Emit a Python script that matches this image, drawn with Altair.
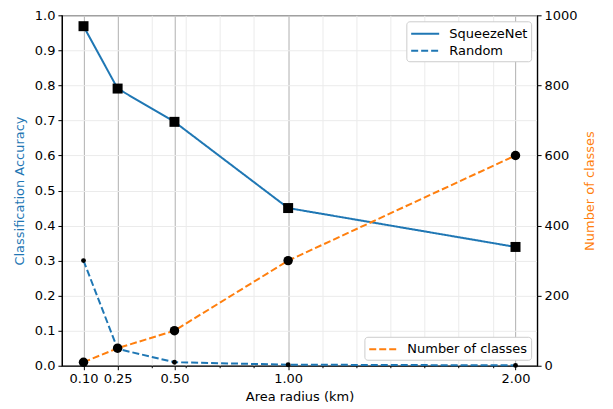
import altair as alt
import pandas as pd

radius = [0.10, 0.25, 0.50, 1.00, 2.00]
squeezenet = [0.969, 0.791, 0.696, 0.450, 0.339]
random_acc = [0.300, 0.048, 0.010, 0.003, 0.001]
n_classes = [10, 50, 100, 300, 600]

x_major = [0.10, 0.25, 0.50, 1.00, 2.00]
x_ticks = [0.10, 0.25, 0.40, 0.50, 0.55, 0.70, 0.85, 1.00, 1.15, 1.30,
           1.45, 1.60, 1.75, 1.90, 2.00]
y_left_ticks = [0.0, 0.1, 0.2, 0.3, 0.4, 0.5, 0.6, 0.7, 0.8, 0.9, 1.0]
y_right_ticks = [0, 200, 400, 600, 800, 1000]

BLUE = "#1f77b4"
ORANGE = "#ff7f0e"
FONT = "DejaVu Sans"
LEG_SYMBOL = "M-0.9,0H2.4"

acc_df = pd.DataFrame({
    "radius": radius * 2,
    "acc": squeezenet + random_acc,
    "series": ["SqueezeNet"] * len(radius) + ["Random"] * len(radius),
})
cls_df = pd.DataFrame({"radius": radius, "classes": n_classes,
                       "series": ["Number of classes"] * len(radius)})

major_test = " || ".join(f"datum.value == {v}" for v in x_major)

x_enc = alt.X(
    "radius:Q",
    scale=alt.Scale(domain=[0.005, 2.095], nice=False, zero=False),
    axis=alt.Axis(
        values=x_ticks,
        title="Area radius (km)",
        labelExpr=f"({major_test}) ? format(datum.value, '.2f') : ''",
        labelOverlap=False,
        labelFlush=False,
        grid=True,
        gridColor={"condition": {"test": major_test, "value": "#b0b0b0"}, "value": "#ebebeb"},
        tickSize={"condition": {"test": major_test, "value": 4}, "value": 2},
        titlePadding=5,
    ),
)

y_left = alt.Y(
    "acc:Q",
    scale=alt.Scale(domain=[0, 1], nice=False),
    axis=alt.Axis(values=y_left_ticks, format=".1f", title="Classification Accuracy",
                  titleColor=BLUE, grid=True, gridColor="#ebebeb", orient="left",
                  titlePadding=8),
)

legend_common = dict(
    title=None, symbolType=LEG_SYMBOL, symbolStrokeWidth=2, symbolSize=289,
    strokeColor="#cccccc", fillColor="white", padding=3, cornerRadius=3,
    labelFontSize=13, rowPadding=0, offset=6, labelOffset=21,
)

blue_lines = alt.Chart(acc_df).mark_line(color=BLUE, strokeWidth=2).encode(
    x=x_enc,
    y=y_left,
    strokeDash=alt.StrokeDash(
        "series:N",
        scale=alt.Scale(domain=["SqueezeNet", "Random"], range=[[1, 0], [7, 3]]),
        legend=alt.Legend(orient="top-right", symbolStrokeColor=BLUE, **legend_common),
    ),
)

squares = alt.Chart(acc_df).transform_filter(
    alt.datum.series == "SqueezeNet"
).mark_square(size=100, color="black", opacity=1).encode(x=x_enc, y=y_left)

dots = alt.Chart(acc_df).transform_filter(
    alt.datum.series == "Random"
).mark_circle(size=24, color="black", opacity=1).encode(x=x_enc, y=y_left)

left = alt.layer(blue_lines, squares, dots)

y_right = alt.Y(
    "classes:Q",
    scale=alt.Scale(domain=[0, 1000], nice=False),
    axis=alt.Axis(values=y_right_ticks, format="d", title="Number of classes",
                  titleColor=ORANGE, grid=False, orient="right", titleAngle=270,
                  titlePadding=19),
)

orange_line = alt.Chart(cls_df).mark_line(strokeWidth=2, strokeDash=[7, 3]).encode(
    x=x_enc,
    y=y_right,
    color=alt.Color(
        "series:N",
        scale=alt.Scale(domain=["Number of classes"], range=[ORANGE]),
        legend=alt.Legend(orient="bottom-right", symbolDash=[7, 3], **legend_common),
    ),
)

circles = alt.Chart(cls_df).mark_circle(size=90, color="black", opacity=1).encode(
    x=x_enc, y=y_right
)

right = alt.layer(orange_line, circles)

chart = alt.layer(left, right).resolve_scale(y="independent").properties(
    width=476, height=351,
    autosize=alt.AutoSizeParams(type="none"),
    padding={"left": 54, "top": 7, "right": 68, "bottom": 42},
).configure(font=FONT).configure_view(
    stroke="black", strokeWidth=1.2
).configure_axis(
    labelFont=FONT, titleFont=FONT, labelFontSize=13, titleFontSize=13,
    titleFontWeight="normal", labelColor="black", titleColor="black",
    domainColor="black", tickColor="black", domainWidth=1.2, tickWidth=1,
    tickSize=4, labelPadding=3, gridWidth=1,
).configure_legend(labelFont=FONT, labelColor="black")

chart.save("out.html", embed_options={"renderer": "svg", "actions": False})
